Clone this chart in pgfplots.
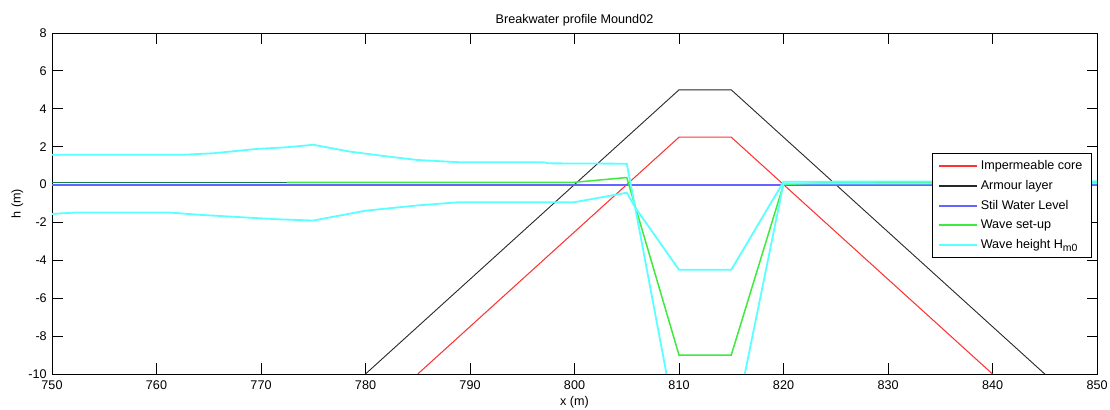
\documentclass[border=0pt]{standalone}
\usepackage{fontspec}
\setmainfont{Liberation Sans}
\usepackage{pgfplots}
\pgfplotsset{compat=1.18}
\definecolor{mred}{RGB}{255,50,50}
\definecolor{mblack}{RGB}{40,40,40}
\definecolor{mblue}{RGB}{100,100,255}
\definecolor{mgreen}{RGB}{60,235,60}
\definecolor{mdgreen}{RGB}{20,130,70}
\definecolor{mcyan}{RGB}{90,255,255}
\begin{document}
\begin{tikzpicture}
\path[use as bounding box] (-34.67pt,-24pt) rectangle (705.33pt,249.33pt);
\begin{axis}[
  scale only axis,
  width=696.67pt, height=227.33pt,
  xmin=750, xmax=850, ymin=-10, ymax=8,
  xtick={750,760,...,850}, ytick={-10,-8,...,8},
  tick align=inside, major tick length=7pt,
  minor tick num=0,
  axis line style={black, line width=0.6pt},
  every tick/.style={black, line width=0.6pt},
  font=\fontsize{8.4}{10}\selectfont,
  /pgf/number format/assume math mode=true,
  xticklabel style={yshift=-1pt},
  title={Breakwater profile Mound02},
  title style={yshift=-4.7pt},
  xlabel={x (m)}, ylabel={h (m)},
  xlabel shift=-2.7pt, ylabel shift=-3.3pt,
  clip=true,
  legend cell align=left,
  legend style={at={(0.995,0.647)}, anchor=north east, draw=black, line width=0.6pt,
    fill=white, font=\fontsize{8.4}{10}\selectfont, row sep=1.6pt, inner xsep=4pt, inner ysep=2.5pt},
  legend image code/.code={\draw[#1, line width=1.2pt] (0pt,0pt) -- (25pt,0pt);},
]
\addplot[mred, line width=0.7pt] coordinates {(785,-10) (810,2.5) (815,2.5) (840,-10)};
\addlegendentry{Impermeable core}
\addplot[mblack, line width=0.6pt] coordinates {(780,-10) (810,5) (815,5) (845,-10)};
\addlegendentry{Armour layer}
\addplot[mblue, line width=1.4pt] coordinates {(750,0) (850,0)};
\addlegendentry{Stil Water Level}
\addplot[mgreen, line width=1pt] coordinates {(772.5,0.12) (800,0.12) (805,0.37) (810,-9) (815,-9) (820,0) (824,0.1) (850,0.1)};
\addlegendentry{Wave set-up}
\addplot[mcyan, line width=1.2pt] coordinates {
 (750,1.57) (762.4,1.57) (765.4,1.65) (769.6,1.88) (772.5,1.97) (775,2.1)
 (778.5,1.74) (781.7,1.51) (784.9,1.3) (788.9,1.18) (797,1.18) (797.5,1.12)
 (805,1.1) (805.8,-1.2) (810,-4.5) (815,-4.5) (820,0.15) (850,0.17)};
\addlegendentry{Wave height H\raisebox{-0.5ex}{\fontsize{7}{7}\selectfont m0}}
\addplot[mcyan, line width=1.2pt, forget plot] coordinates {
 (750,-1.55) (752.2,-1.48) (761.3,-1.48) (764.2,-1.6) (768.3,-1.73) (771.5,-1.83)
 (775,-1.9) (780,-1.38) (785,-1.1) (789,-0.93) (800,-0.93) (805,-0.43)
 (805.8,-1.2) (810,-13.5) (815,-13.5) (820,0.05) (850,0.07)};
\addplot[mdgreen, line width=0.8pt, forget plot] coordinates {(750,0.09) (772.5,0.09)};
\end{axis}
\end{tikzpicture}
\end{document}
